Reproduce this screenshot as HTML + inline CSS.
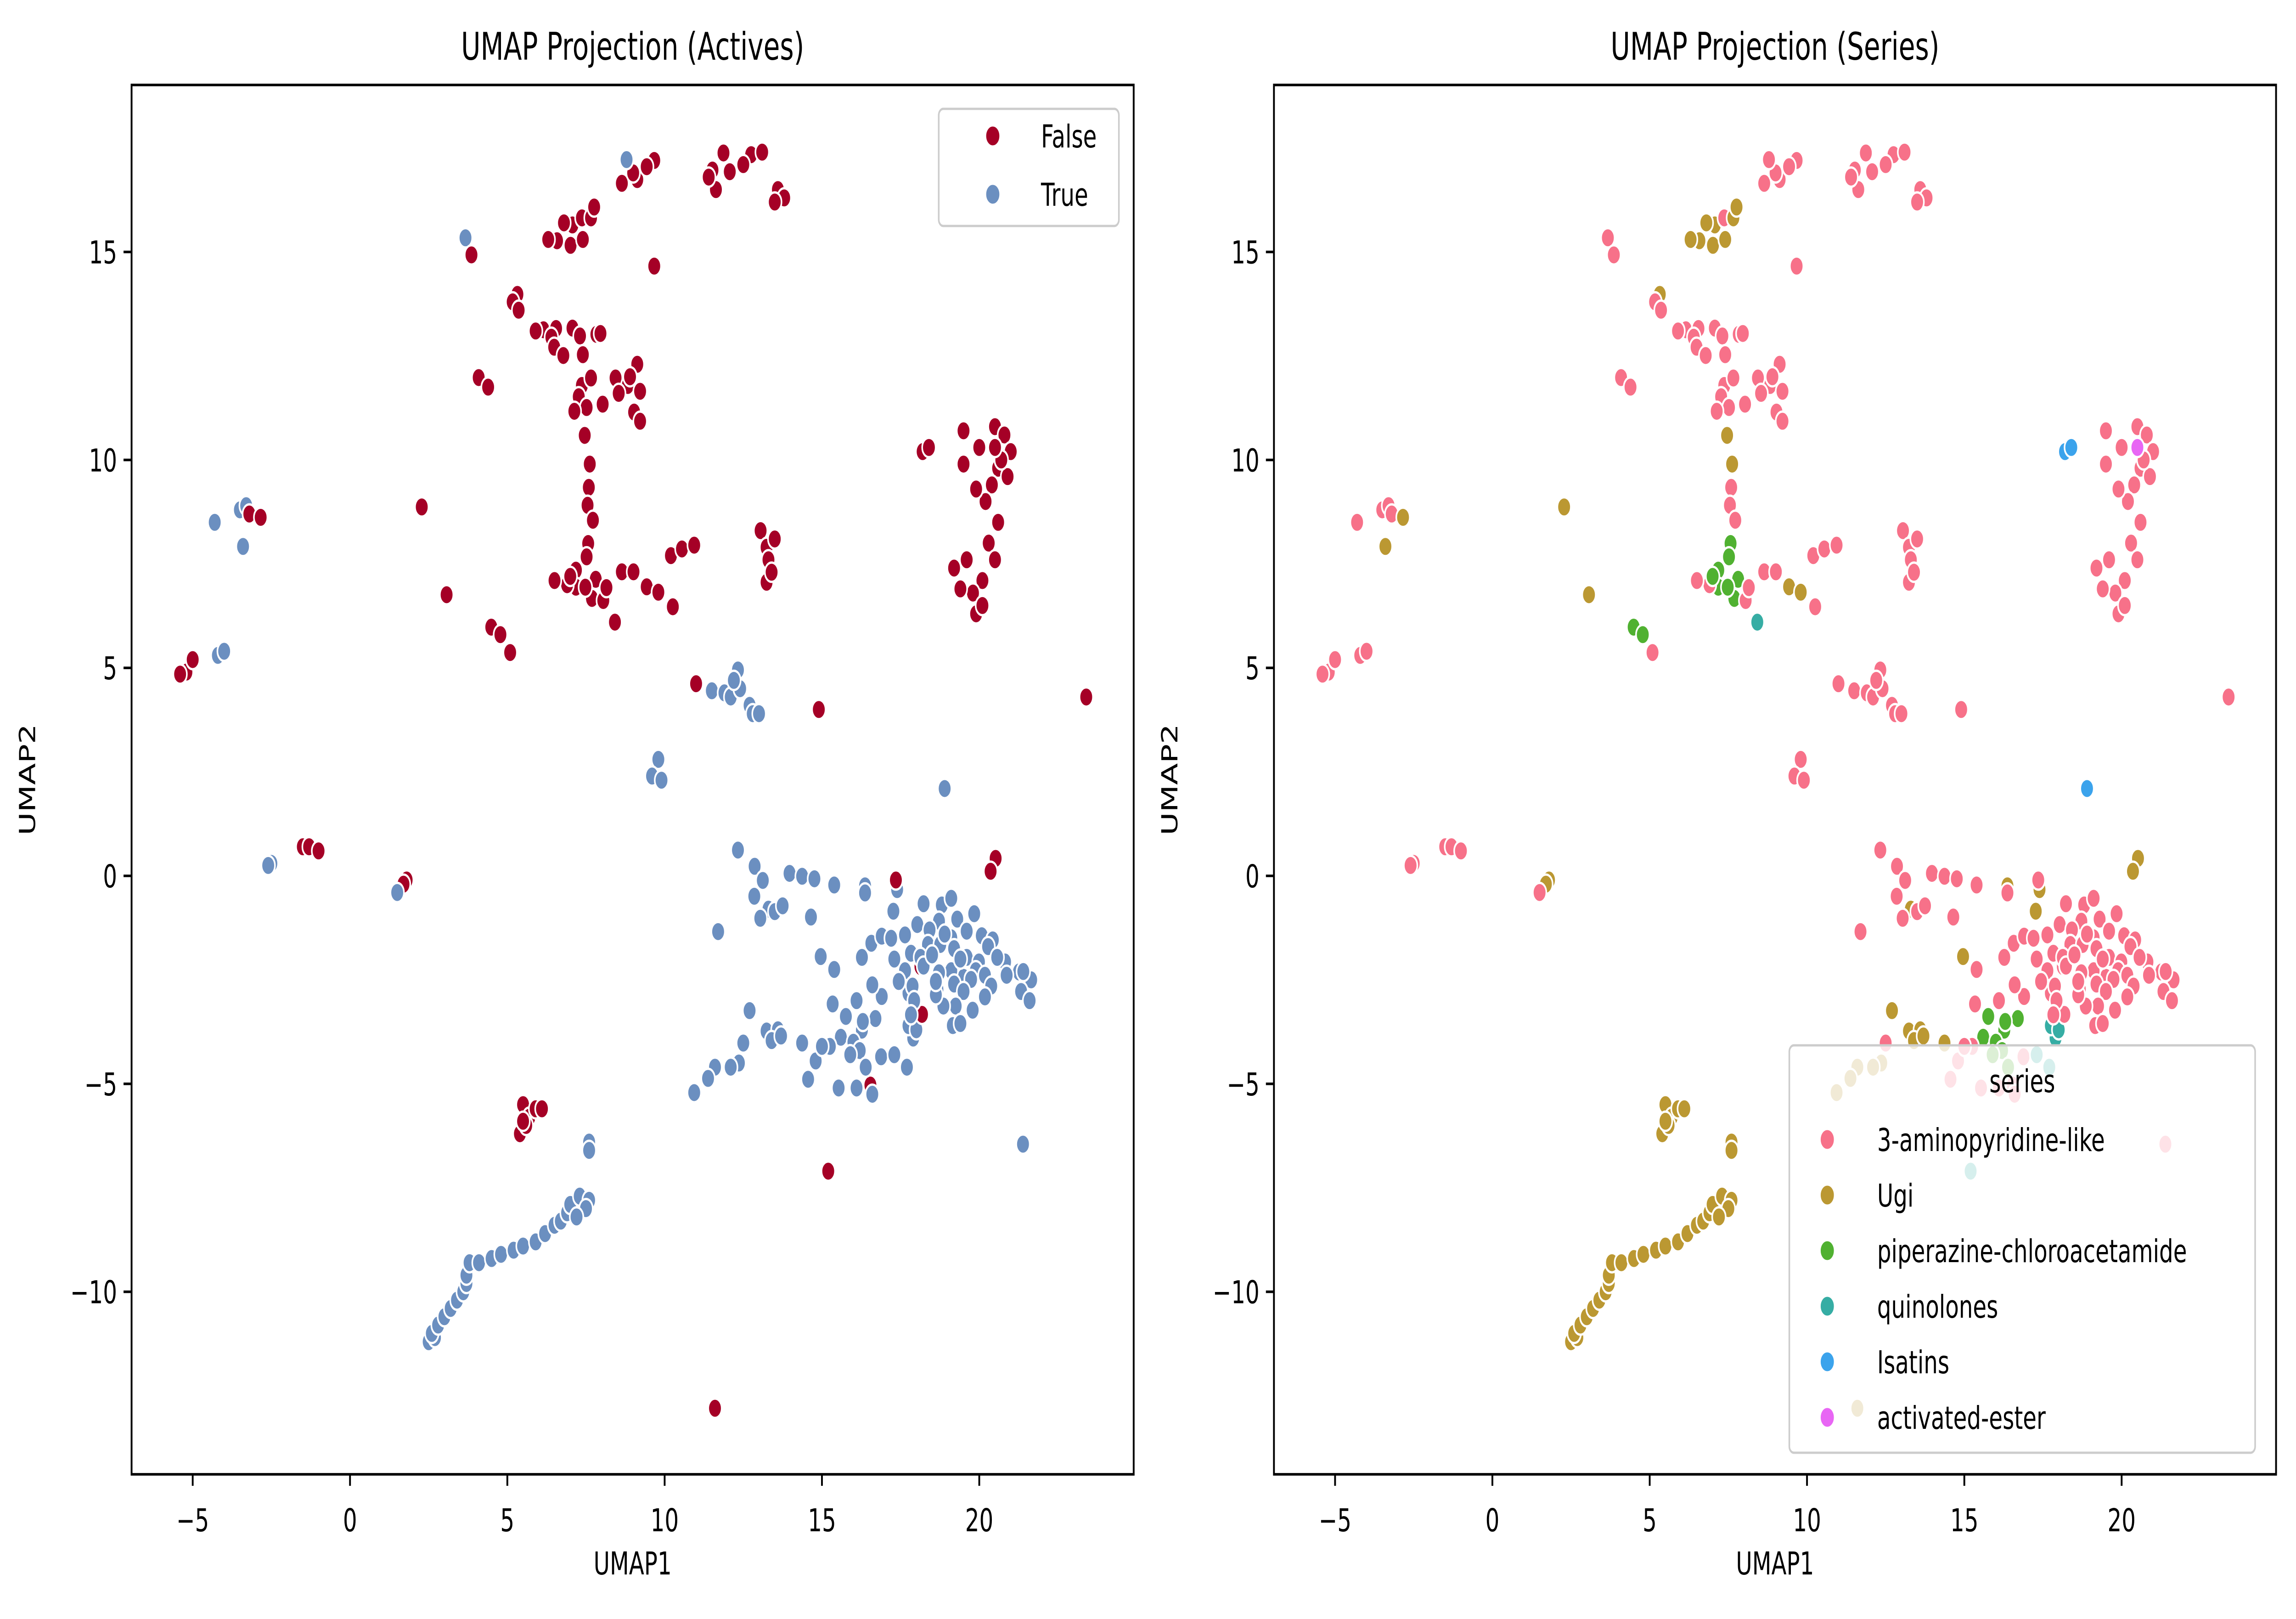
<!DOCTYPE html>
<html><head><meta charset="utf-8"><style>
html,body{margin:0;padding:0;background:#fff;width:100%;height:100%;overflow:hidden}
svg{display:block;width:100vw;height:100vh}
text{font-family:"DejaVu Sans","Liberation Sans",sans-serif;fill:#000}
</style></head>
<body>
<svg id="fig" xmlns="http://www.w3.org/2000/svg" viewBox="0 0 7137 3525" preserveAspectRatio="none">
<rect width="7137" height="3525" fill="#fff"/>
<g id="left"></g>
<g id="right"></g>
</svg>
<script>
// ---- data ----
const xTicks = [-5, 0, 5, 10, 15, 20];
const yTicks = [-10, -5, 0, 5, 10, 15];
const activeLabels = ["False", "True"];
const activeColors = ["#a50026", "#6b8fc0"];
const seriesNames = ["3-aminopyridine-like", "Ugi", "piperazine-chloroacetamide", "quinolones", "Isatins", "activated-ester"];
const seriesColors = ["#f77189", "#bb9832", "#50b131", "#36ada4", "#3ba3ec", "#e866f4"];
// [umap1, umap2, active(0/1), seriesIndex]
const points = [
[9.13,16.74,0,0],[8.64,16.65,0,0],[9.0,16.9,0,0],[9.67,17.2,0,0],[9.43,17.05,0,0],[8.79,17.22,1,0],
[11.52,16.97,0,0],[11.87,17.38,0,0],[11.63,16.5,0,0],[12.07,16.93,0,0],[12.75,17.34,0,0],[13.1,17.4,0,0],[12.5,17.1,0,0],[11.4,16.8,0,0],[13.6,16.5,0,0],[13.8,16.3,0,0],[13.5,16.2,0,0],
[3.67,15.34,1,0],[3.86,14.93,0,0],
[6.58,15.27,0,1],[7.01,15.16,0,1],[7.07,15.65,0,1],[7.37,15.82,0,0],[7.66,15.82,0,1],[7.76,16.08,0,1],[6.8,15.7,0,1],[7.4,15.3,0,1],[6.3,15.3,0,1],
[9.67,14.66,0,0],
[5.32,13.98,0,1],[5.17,13.8,0,0],[5.36,13.6,0,0],
[6.15,13.13,0,0],[6.55,13.16,0,0],[6.4,12.95,0,0],[6.49,12.71,0,0],[6.78,12.51,0,0],[7.07,13.17,0,0],[7.31,12.98,0,0],[7.4,12.53,0,0],[7.83,13.02,0,0],[7.96,13.04,0,0],[5.9,13.1,0,0],
[4.09,11.98,0,0],[4.39,11.75,0,0],
[7.37,11.79,0,0],[7.66,11.97,0,0],[7.27,11.52,0,0],[7.52,11.26,0,0],[7.13,11.17,0,0],[8.03,11.34,0,0],
[8.44,11.97,0,0],[8.83,11.79,0,0],[9.13,12.3,0,0],[9.22,11.65,0,0],[9.03,11.15,0,0],[9.22,10.93,0,0],[8.54,11.6,0,0],[8.9,12.0,0,0],
[7.46,10.59,0,1],[7.62,9.9,0,1],[7.59,9.34,0,0],[7.55,8.91,0,0],[7.72,8.55,0,0],[7.57,7.99,0,2],[7.18,7.35,0,2],[7.52,7.67,0,2],[7.81,7.13,0,2],[7.18,6.94,0,2],[7.69,6.67,0,2],[8.05,6.62,0,0],[7.48,6.94,0,2],[8.15,6.93,0,0],[6.9,7.0,0,0],[6.5,7.1,0,0],[7.0,7.2,0,2],
[8.42,6.1,0,3],
[8.64,7.31,0,0],[9.01,7.31,0,0],[9.43,6.95,0,1],[9.8,6.82,0,1],[10.26,6.47,0,0],
[10.2,7.7,0,0],[10.55,7.86,0,0],[10.94,7.95,0,0],
[13.05,8.3,0,0],[13.24,7.9,0,0],[13.3,7.6,0,0],[13.24,7.06,0,0],[13.5,8.1,0,0],[13.4,7.3,0,0],
[2.28,8.87,0,1],[3.07,6.76,0,1],[4.49,5.98,0,2],[4.78,5.8,0,2],[5.09,5.37,0,0],
[11.0,4.62,0,0],[14.9,4.0,0,0],[23.4,4.3,0,0],
[11.5,4.45,1,0],[11.9,4.4,1,0],[12.33,4.95,1,0],[12.1,4.3,1,0],[12.7,4.1,1,0],[12.8,3.9,1,0],[13.0,3.9,1,0],[12.4,4.5,1,0],[12.2,4.7,1,0],
[9.7,2.5,1,0],[9.8,2.8,1,0],[9.6,2.4,1,0],[9.9,2.3,1,0],
[18.9,2.1,1,4],
[18.2,10.2,0,4],[18.4,10.3,0,4],[19.5,10.7,0,0],[20.0,10.3,0,0],[20.5,10.8,0,0],[20.8,10.6,0,0],[21.0,10.2,0,0],[20.6,9.8,0,0],[20.4,9.4,0,0],[20.2,9.0,0,0],[20.6,8.5,0,0],[20.3,8.0,0,0],[20.5,7.6,0,0],[20.1,7.1,0,0],[19.8,6.8,0,0],[19.9,6.3,0,0],[20.1,6.5,0,0],[19.2,7.4,0,0],[19.4,6.9,0,0],[19.6,7.6,0,0],[19.9,9.3,0,0],[20.9,9.6,0,0],[19.5,9.9,0,0],[20.7,10.0,0,0],[20.5,10.3,0,5],
[-3.5,8.8,1,0],[-3.3,8.9,1,0],[-3.2,8.7,0,0],[-2.84,8.62,0,1],[-3.4,7.92,1,1],[-4.3,8.5,1,0],
[-5.2,4.9,0,0],[-5.4,4.85,0,0],[-5.0,5.2,0,0],[-4.2,5.3,1,0],[-4.0,5.4,1,0],
[-2.5,0.3,1,0],[-2.6,0.25,1,0],[-1.5,0.7,0,0],[-1.3,0.7,0,0],[-1.0,0.6,0,0],[1.8,-0.1,0,1],[1.7,-0.2,0,1],[1.5,-0.4,1,0],
[5.5,-5.5,0,1],[5.7,-5.8,0,1],[5.4,-6.2,0,1],[5.9,-5.6,0,1],[6.1,-5.6,0,1],[5.6,-6.0,0,1],[5.5,-5.9,0,1],
[15.2,-7.1,0,3],[11.6,-12.8,0,1],
[2.5,-11.2,1,1],[2.7,-11.1,1,1],[2.6,-11.0,1,1],[2.8,-10.8,1,1],[3.0,-10.6,1,1],[3.2,-10.4,1,1],[3.4,-10.2,1,1],[3.6,-10.0,1,1],[3.7,-9.8,1,1],[3.7,-9.6,1,1],[3.8,-9.3,1,1],[4.1,-9.3,1,1],[4.5,-9.2,1,1],[4.8,-9.1,1,1],[5.2,-9.0,1,1],[5.5,-8.9,1,1],[5.9,-8.8,1,1],[6.2,-8.6,1,1],[6.5,-8.4,1,1],[6.7,-8.3,1,1],[6.9,-8.1,1,1],[7.0,-7.9,1,1],[7.3,-7.7,1,1],[7.6,-7.8,1,1],[7.5,-8.0,1,1],[7.2,-8.2,1,1],[7.6,-6.4,1,1],[7.6,-6.6,1,1],
[12.33,0.62,1,0],[12.86,0.23,1,0],[13.12,-0.11,1,0],[12.85,-0.49,1,0],[13.3,-0.8,1,1],[13.04,-1.02,1,0],[13.5,-0.86,1,0],[13.75,-0.72,1,0],
[13.97,0.06,1,0],[14.37,-0.01,1,0],[14.76,-0.07,1,0],[15.39,-0.22,1,0],[16.37,-0.24,1,1],[16.37,-0.41,1,0],[17.39,-0.33,1,1],[17.27,-0.85,1,1],[17.35,-0.1,0,0],
[20.52,0.42,0,1],[20.36,0.11,0,1],
[11.7,-1.34,1,0],[14.65,-0.99,1,0],[14.96,-1.94,1,1],[15.39,-2.25,1,0],
[16.27,-1.96,1,0],[16.57,-1.62,1,0],[16.9,-1.45,1,0],[17.2,-1.5,1,0],
[15.34,-3.08,1,0],[15.76,-3.38,1,2],[16.27,-3.71,1,2],[16.7,-3.43,1,2],[16.9,-2.9,1,0],[16.6,-2.62,1,0],[16.1,-3.0,1,0],[15.6,-3.88,1,2],[16.3,-3.5,1,2],[16.0,-4.0,1,2],[16.2,-4.2,1,2],
[15.25,-4.1,1,0],[15.9,-4.3,1,2],[14.8,-4.45,1,0],[14.56,-4.89,1,0],[15.53,-5.1,1,0],[16.1,-5.1,1,0],[16.54,-5.03,0,0],[16.6,-5.25,1,0],[16.39,-4.6,1,2],[16.88,-4.35,1,0],[17.3,-4.3,1,3],[17.7,-4.6,1,3],[17.9,-3.9,1,3],[17.75,-3.6,1,3],[18.1,-3.4,1,3],[18.0,-3.7,1,3],[18.18,-3.33,0,0],[17.75,-2.82,1,0],[18.13,-2.18,0,0],
[14.37,-4.02,1,1],[15.0,-4.1,1,0],[12.7,-3.24,1,1],[13.24,-3.73,1,1],[13.6,-3.7,1,1],[13.4,-3.96,1,1],[13.7,-3.85,1,1],
[12.5,-4.02,1,0],[12.36,-4.5,1,1],[12.1,-4.6,1,1],[11.6,-4.6,1,1],[11.38,-4.87,1,1],[10.94,-5.21,1,1],[21.39,-6.45,1,0],
[20.82,-2.07,1,0],[21.26,-2.31,1,0],[21.65,-2.5,1,0],[21.33,-2.78,1,0],[21.6,-3.0,1,0],[21.4,-2.3,1,0],
[18.23,-0.67,1,0],[18.81,-0.70,1,0],[19.11,-0.54,1,0],[19.84,-0.91,1,0],[19.30,-1.04,1,0],[18.72,-1.09,1,0],[18.03,-1.17,1,0],[17.64,-1.42,1,0],[18.42,-1.30,1,0],[19.60,-1.33,1,0],[20.08,-1.44,1,0],[20.43,-1.54,1,0],[20.28,-1.70,1,0],[19.11,-1.49,1,0],[18.37,-1.65,1,0],[18.76,-1.65,1,0],[17.83,-1.86,1,0],[17.30,-2.0,1,0],[18.13,-1.96,1,0],[19.20,-1.75,1,0],[19.60,-1.96,1,0],[19.99,-2.07,1,0],[20.57,-1.96,1,0],[19.89,-2.28,1,0],[19.50,-2.44,1,0],[19.11,-2.28,1,0],[18.72,-2.33,1,0],[18.23,-2.17,1,0],[17.64,-2.28,1,0],[17.44,-2.54,1,0],[17.88,-2.65,1,0],[18.67,-2.73,1,0],[19.20,-2.6,1,0],[19.74,-2.49,1,0],[20.18,-2.39,1,0],[20.38,-2.65,1,0],[20.18,-2.91,1,0],[19.79,-3.23,1,0],[19.50,-2.78,1,0],[19.25,-3.13,1,0],[18.86,-3.13,1,0],[18.62,-2.86,1,0],[19.16,-3.6,1,0],[19.40,-3.55,1,0],[17.93,-3.0,1,0],[17.83,-3.34,1,0],[18.62,-2.54,1,0],[20.87,-2.39,1,0],[18.5,-1.9,1,0],[19.4,-2.0,1,0],[18.9,-1.4,1,0]
];

// ---- layout ----
const NS = "http://www.w3.org/2000/svg";
const AX = {top:185, bottom:3210, w:3115};
const panels = [
  {g:document.getElementById('left'), left:409, title:"UMAP Projection (Actives)", mode:"active"},
  {g:document.getElementById('right'), left:3960, title:"UMAP Projection (Series)", mode:"series"}
];
const PX_X = 97.8, PX_Y = 90.56, X0_OFF = 679, Y0 = 1907;
function sx(p, x){ return p.left + X0_OFF + x*PX_X; }
function sy(y){ return Y0 - y*PX_Y; }
function mk(tag, attrs, parent){
  const e = document.createElementNS(NS, tag);
  for (const k in attrs) e.setAttribute(k, attrs[k]);
  parent.appendChild(e); return e;
}

panels.forEach((p, pi) => {
  const g = p.g;
  const cp = mk('clipPath', {id:'clip'+pi}, g);
  mk('rect', {x:p.left, y:AX.top, width:AX.w, height:AX.bottom-AX.top}, cp);
  const pts = mk('g', {'clip-path':'url(#clip'+pi+')'}, g);
  
  
  points.forEach(d => {
    const c = mk('circle', {cx:sx(p,d[0]), cy:sy(d[1]), r:21,
      fill: p.mode==='active' ? activeColors[d[2]] : seriesColors[d[3]],
      stroke:'#fff', 'stroke-width':5}, pts);
    
    
  });
  const fr = mk('rect', {x:p.left, y:AX.top, width:AX.w, height:AX.bottom-AX.top, fill:'none', stroke:'#000', 'stroke-width':5.6}, g);
  
  
  xTicks.forEach(t => {
    const x = sx(p, t);
    mk('line', {x1:x, x2:x, y1:AX.bottom, y2:AX.bottom+25, stroke:'#000', 'stroke-width':5.6}, g);
    const tx = mk('text', {x:x, y:3334, 'font-size':69, 'text-anchor':'middle'}, g);
    tx.textContent = t < 0 ? '\u2212' + Math.abs(t) : String(t);
    
    
  });
  yTicks.forEach(t => {
    const y = sy(t);
    mk('line', {x1:p.left-25, x2:p.left, y1:y, y2:y, stroke:'#000', 'stroke-width':5.6}, g);
    const ty = mk('text', {x:p.left-45, y:y+25, 'font-size':69, 'text-anchor':'end'}, g);
    ty.textContent = t < 0 ? '\u2212' + Math.abs(t) : String(t);
    
    
  });
  const cx = p.left + AX.w/2;
  const xl = mk('text', {x:cx, y:3428, 'font-size':69, 'text-anchor':'middle'}, g);
  xl.textContent = 'UMAP1';
  
  
  const ylx = p.left - 300, yly = (AX.top+AX.bottom)/2;
  const yl = mk('text', {x:ylx, y:yly, 'font-size':69, 'text-anchor':'middle', transform:'rotate(-90 '+ylx+' '+yly+')'}, g);
  yl.textContent = 'UMAP2';
  
  
  const tt = mk('text', {x:cx, y:130, 'font-size':83, 'text-anchor':'middle'}, g);
  tt.textContent = p.title;
  
  

  if (p.mode === 'active') {
    const lg = mk('g', {}, g);
    
    
    mk('rect', {x:2918, y:237, width:560, height:255, rx:14, fill:'#fff', 'fill-opacity':0.8, stroke:'#cccccc', 'stroke-width':5}, lg);
    activeLabels.forEach((lab, i) => {
      const yy = 296 + i*127;
      const m = mk('circle', {cx:3086, cy:yy, r:23, fill:activeColors[i], stroke:'#fff', 'stroke-width':5}, lg);
      
      
      const t = mk('text', {x:3236, y:yy+25, 'font-size':69}, lg);
      t.textContent = lab;
      
      
    });
  } else {
    const lg = mk('g', {}, g);
    
    
    mk('rect', {x:5562, y:2276, width:1448, height:887, rx:14, fill:'#fff', 'fill-opacity':0.8, stroke:'#cccccc', 'stroke-width':5}, lg);
    const ti = mk('text', {x:6286, y:2378, 'font-size':69, 'text-anchor':'middle'}, lg);
    ti.textContent = 'series';
    
    
    seriesNames.forEach((lab, i) => {
      const yy = 2481 + i*121;
      const m = mk('circle', {cx:5680, cy:yy, r:23, fill:seriesColors[i], stroke:'#fff', 'stroke-width':5}, lg);
      
      
      const t = mk('text', {x:5835, y:yy+25, 'font-size':69}, lg);
      t.textContent = lab;
      
      
    });
  }
});
</script>
</body></html>
